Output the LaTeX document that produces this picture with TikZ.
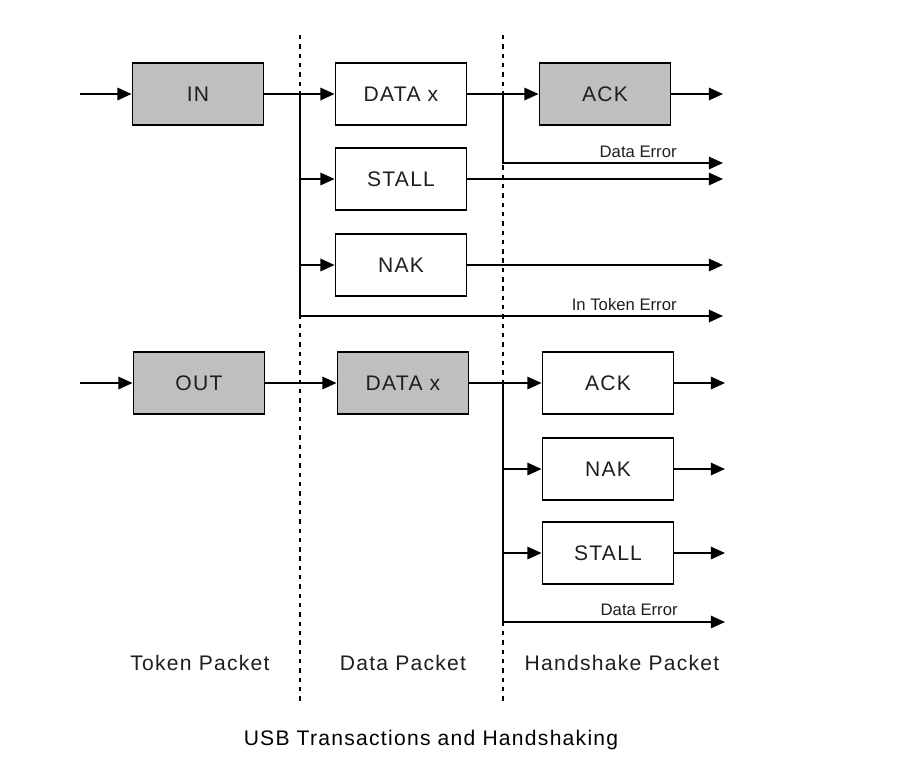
\documentclass[tikz,border=0pt]{standalone}
\usepackage{fontspec}
\setmainfont{Liberation Sans}
\newfontfamily\spacedfont{Liberation Sans}[LetterSpace=6]
\usetikzlibrary{arrows.meta,positioning}
\newcommand\pktfont{\spacedfont\fontsize{12}{14}\selectfont}
\newcommand\errfont{\fontsize{9.5}{11}\selectfont}
\definecolor{pktgray}{rgb}{0.75,0.75,0.75}
\definecolor{inkgray}{rgb}{0.12,0.12,0.12}
\tikzset{
  pkt/.style={
    shape = rectangle,
    draw,
    line width = 1.1pt,
    minimum width = 2.62cm,
    minimum height = 1.25cm,
    text = inkgray,
    font = \pktfont
  },
  pktfill/.style={
    pkt,
    fill = pktgray
  },
  flow/.style={
    line width = 1.1pt,
    -{Triangle[length=8pt,width=7pt]}
  },
  divider/.style={
    line width = 1.1pt,
    dash pattern = on 2.5pt off 2.8pt
  },
  errlabel/.style={
    anchor = base east,
    inner sep = 0pt,
    text = inkgray,
    font = \errfont
  },
  phase/.style={
    anchor = base,
    inner sep = 0pt,
    text = inkgray,
    font = \pktfont
  }
}

\begin{document}
\begin{tikzpicture}[x=0.02cm,y=-0.02cm]
    \useasboundingbox (0,0) rectangle (916,765);

    % phase dividers
    \draw[divider] (300,35) -- (300,705);
    \draw[divider] (503,35) -- (503,705);

    % IN transaction
    \node[pktfill] (inTok) at (198,94) {IN};
    \node[pkt] (inData) at (401,94) {DATA x};
    \node[pkt] (inStall) at (401,179) {STALL};
    \node[pkt] (inNak) at (401,265) {NAK};
    \node[pktfill] (inAck) at (605,94) {ACK};

    \coordinate (inStart) at (80,94);
    \coordinate (inSplit) at (300,94);
    \coordinate (inAckSplit) at (503,94);
    \coordinate (rim) at (723,0);
    \coordinate (inDataErr) at (723,163);
    \coordinate (inTokErr) at (723,316);

    \draw[flow] (inStart) -- (inTok.west);
    \draw[flow] (inTok.east) -- (inData.west);
    \draw[flow] (inSplit |- inStall) -- (inStall.west);
    \draw[flow] (inSplit |- inNak) -- (inNak.west);
    \draw[flow] (inSplit) |- (inTokErr);
    \draw[flow] (inData.east) -- (inAck.west);
    \draw[flow] (inAckSplit) |- (inDataErr);
    \draw[flow] (inAck.east) -- (inAck.east -| rim);
    \draw[flow] (inStall.east) -- (inStall.east -| rim);
    \draw[flow] (inNak.east) -- (inNak.east -| rim);

    \node[errlabel] (inDataErrLbl) at (677,157) {Data Error};
    \node[errlabel] (inTokErrLbl) at (677,310) {In Token Error};

    % OUT transaction
    \node[pktfill] (outTok) at (199,383) {OUT};
    \node[pktfill] (outData) at (403,383) {DATA x};
    \node[pkt] (outAck) at (608,383) {ACK};
    \node[pkt] (outNak) at (608,469) {NAK};
    \node[pkt] (outStall) at (608,553) {STALL};

    \coordinate (outStart) at (80,383);
    \coordinate (outSplit) at (503,383);
    \coordinate (outDataErr) at (725,622);

    \draw[flow] (outStart) -- (outTok.west);
    \draw[flow] (outTok.east) -- (outData.west);
    \draw[flow] (outData.east) -- (outAck.west);
    \draw[flow] (outSplit |- outNak) -- (outNak.west);
    \draw[flow] (outSplit |- outStall) -- (outStall.west);
    \draw[flow] (outSplit) |- (outDataErr);
    \draw[flow] (outAck.east) -- (outAck.east -| outDataErr);
    \draw[flow] (outNak.east) -- (outNak.east -| outDataErr);
    \draw[flow] (outStall.east) -- (outStall.east -| outDataErr);

    \node[errlabel] (outDataErrLbl) at (678,615) {Data Error};

    % phase names and caption
    \node[phase] (tokName) at (200,670) {Token Packet};
    \node[phase] (dataName) at (403,670) {Data Packet};
    \node[phase] (handName) at (622,670) {Handshake Packet};
    \node[phase, text=black] (caption) at (431,745) {USB Transactions and Handshaking};
\end{tikzpicture}
\end{document}
